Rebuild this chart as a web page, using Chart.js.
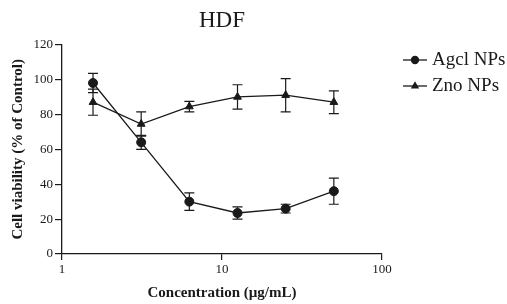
<!DOCTYPE html>
<html>
<head>
<meta charset="utf-8">
<script src="https://cdn.jsdelivr.net/npm/chart.js@4.4.0/dist/chart.umd.min.js"></script>
<style>
  html, body { margin: 0; padding: 0; background: #fff; }
  #wrap { width: 507px; height: 304px; }
</style>
</head>
<body>
<div id="wrap"><canvas id="lineChart" width="507" height="304"></canvas></div>
<script>
// concentrations (µg/mL)
var conc = [1.5625, 3.125, 6.25, 12.5, 25, 50];
var agclVals = [98, 64, 30, 23.5, 26, 36];
var agclErr = [5.5, 4, 5, 3.5, 2.5, 7.5];
var znoVals = [87, 74.5, 84.5, 90, 91, 87];
var znoErr = [7.5, 7, 3, 7, 9.5, 6.5];
var xTicks = [1, 10, 100];
var seriesNames = ["Agcl NPs", "Zno NPs"];

var ink = '#1a1a1a';
var serif = "'Liberation Serif', 'Times New Roman', serif";

function toPoints(vals) {
    return conc.map(function (c, i) { return { x: c, y: vals[i] }; });
}

// error bars drawn through the chart scales
var errorBars = {
    id: 'errorBars',
    afterDatasetsDraw: function (chart) {
        var ctx = chart.ctx;
        var xs = chart.scales.x, ys = chart.scales.y;
        var errs = [agclErr, znoErr];
        ctx.save();
        ctx.strokeStyle = ink;
        ctx.lineWidth = 1.2;
        chart.data.datasets.forEach(function (ds, d) {
            ds.data.forEach(function (p, i) {
                var px = xs.getPixelForValue(p.x);
                var top = ys.getPixelForValue(p.y + errs[d][i]);
                var bot = ys.getPixelForValue(p.y - errs[d][i]);
                ctx.beginPath();
                ctx.moveTo(px, top); ctx.lineTo(px, bot);
                ctx.moveTo(px - 5, top); ctx.lineTo(px + 5, top);
                ctx.moveTo(px - 5, bot); ctx.lineTo(px + 5, bot);
                ctx.stroke();
            });
        });
        ctx.restore();
    }
};

// legend with a line through the marker
var sideLegend = {
    id: 'sideLegend',
    afterDraw: function (chart) {
        var ctx = chart.ctx;
        var x0 = 403, x1 = 427, tx = 430;
        var rows = [60, 86];
        ctx.save();
        chart.data.datasets.forEach(function (ds, i) {
            var y = rows[i];
            ctx.strokeStyle = ink;
            ctx.lineWidth = 1.3;
            ctx.beginPath();
            ctx.moveTo(x0, y); ctx.lineTo(x1, y);
            ctx.stroke();
            ctx.fillStyle = ink;
            Chart.helpers.drawPoint(ctx, { pointStyle: ds.pointStyle, radius: 3.5, borderWidth: 1 }, 415, y);
            ctx.fillStyle = ink;
            ctx.font = "19px " + serif;
            ctx.textBaseline = 'middle';
            ctx.fillText(ds.label, tx + 2, y);
        });
        ctx.restore();
    }
};

var ctx = document.getElementById("lineChart");

var myChart = new Chart(ctx, {
    type: 'line',
    data: {
        datasets: [{
            label: seriesNames[0],
            data: toPoints(agclVals),
            borderColor: ink,
            backgroundColor: ink,
            borderWidth: 1.3,
            pointStyle: 'circle',
            pointRadius: 4.5,
            pointBorderWidth: 1,
            tension: 0
        }, {
            label: seriesNames[1],
            data: toPoints(znoVals),
            borderColor: ink,
            backgroundColor: ink,
            borderWidth: 1.3,
            pointStyle: 'triangle',
            pointRadius: 4.5,
            pointBorderWidth: 1,
            tension: 0
        }]
    },
    options: {
        responsive: false,
        animation: false,
        layout: { padding: { left: 0, right: 125, top: 0, bottom: 0 } },
        plugins: {
            legend: { display: false },
            tooltip: { enabled: false },
            title: {
                display: true,
                text: 'HDF',
                fullSize: false,
                color: ink,
                font: { family: serif, size: 23, weight: 'normal' },
                padding: { top: 7, bottom: 10 }
            }
        },
        scales: {
            x: {
                type: 'logarithmic',
                min: 1,
                max: 100,
                afterBuildTicks: function (scale) {
                    scale.ticks = xTicks.map(function (v) { return { value: v }; });
                },
                afterFit: function (scale) { scale.height = 50; },
                ticks: {
                    color: ink,
                    font: { family: serif, size: 13 },
                    padding: 2,
                    maxRotation: 0,
                    callback: function (v) { return String(v); }
                },
                grid: { drawOnChartArea: false, drawTicks: true, tickLength: 6, color: ink, lineWidth: 1.2 },
                border: { display: true, color: ink, width: 1.3 },
                title: {
                    display: true,
                    text: 'Concentration (µg/mL)',
                    color: ink,
                    font: { family: serif, size: 15, weight: 'bold' },
                    padding: { top: 2, bottom: 2 }
                }
            },
            y: {
                min: 0,
                max: 120,
                afterFit: function (scale) { scale.width = 62; },
                ticks: {
                    stepSize: 20,
                    color: ink,
                    font: { family: serif, size: 13 },
                    padding: 2
                },
                grid: { drawOnChartArea: false, drawTicks: true, tickLength: 7, color: ink, lineWidth: 1.2 },
                border: { display: true, color: ink, width: 1.3 },
                title: {
                    display: true,
                    text: 'Cell viability (% of Control)',
                    color: ink,
                    font: { family: serif, size: 15, weight: 'bold' },
                    padding: { top: 9, bottom: 0 }
                }
            }
        }
    },
    plugins: [errorBars, sideLegend]
});
</script>
</body>
</html>
